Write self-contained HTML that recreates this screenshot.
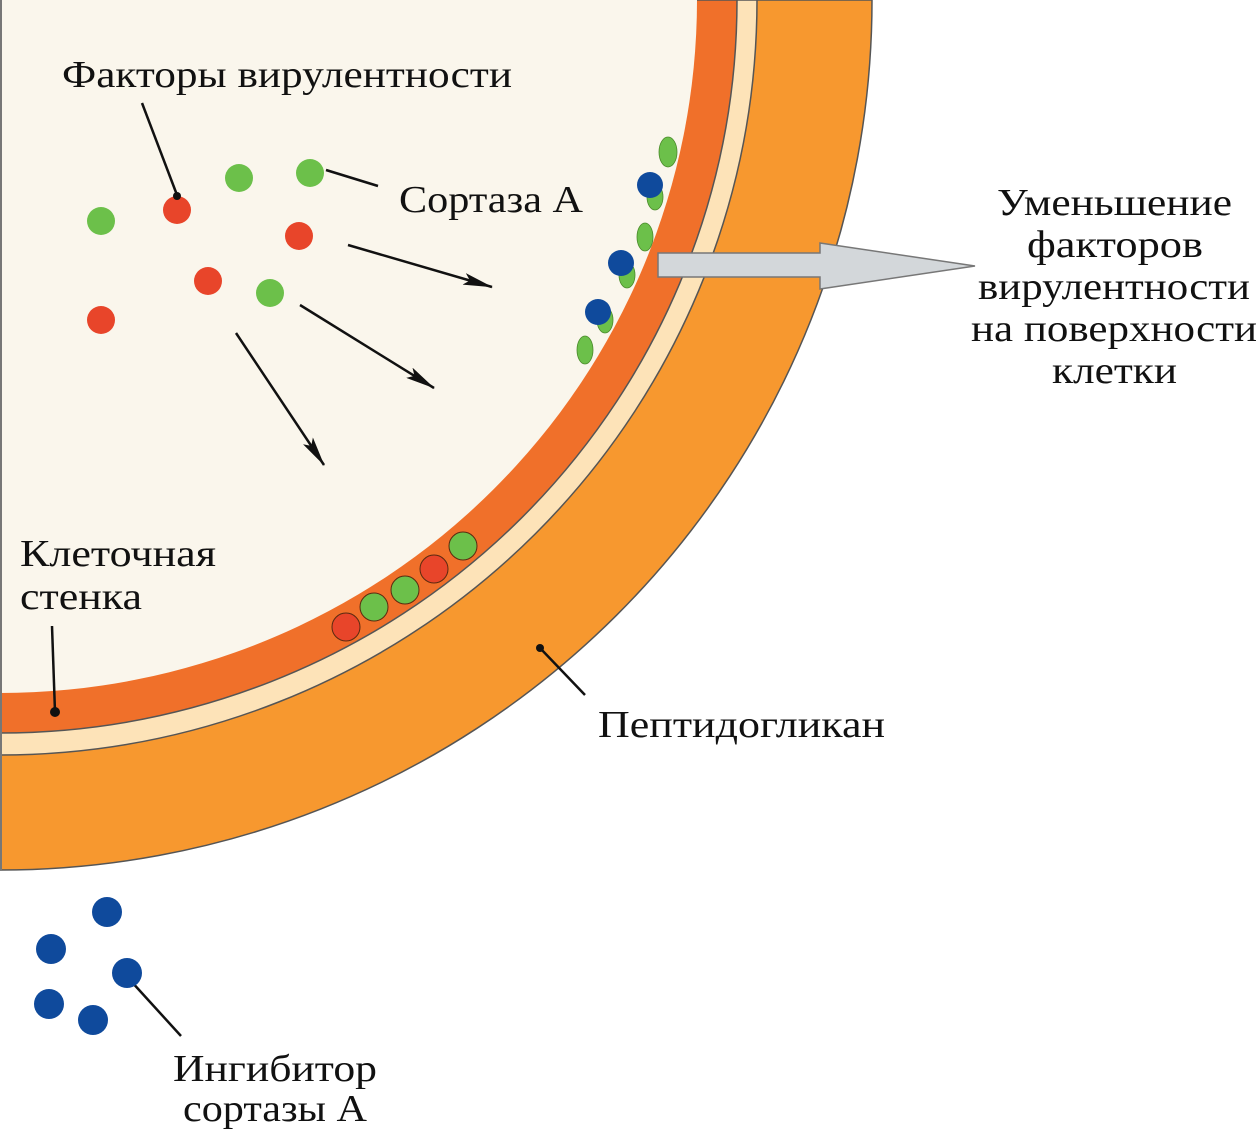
<!DOCTYPE html>
<html><head><meta charset="utf-8"><style>
html,body{margin:0;padding:0;background:#fff;}
svg{display:block;}
text{font-family:"Liberation Serif",serif;font-size:38px;fill:#111;}
</style></head><body>
<svg width="1259" height="1135" viewBox="0 0 1259 1135">
<defs>
<marker id="ah" viewBox="0 0 30 12" refX="29" refY="6" markerWidth="30" markerHeight="12" orient="auto" markerUnits="userSpaceOnUse"><path d="M0,0 L30,6 L0,12 L6,6 z" fill="#111"/></marker>
</defs>
<g stroke="#555" stroke-width="1.5">
<path d="M0,0 L872,0 A872,870 0 0 1 0,870 Z" fill="#f7982f"/>
<path d="M0,0 L757,0 A757,755 0 0 1 0,755 Z" fill="#fde3b8"/>
<path d="M0,0 L737,0 A737,733 0 0 1 0,733 Z" fill="#f0702a"/>
<path d="M0,0 L697,0 A697,693 0 0 1 0,693 Z" fill="#faf6ec" stroke="none"/>
</g>
<rect x="0" y="0" width="2" height="870" fill="#777"/>
<path d="M658,253 L820,253 L820,243 L975,266 L820,289 L820,277 L658,277 Z" fill="#d3d7da" stroke="#777" stroke-width="1.5"/>
<g stroke="#4a8a2a" stroke-width="0.8" fill="#6cc04a">
<ellipse cx="668" cy="152" rx="9" ry="15"/>
<ellipse cx="655" cy="197" rx="8" ry="13"/>
<ellipse cx="645" cy="237" rx="8" ry="14"/>
<ellipse cx="627" cy="275" rx="8" ry="13"/>
<ellipse cx="605" cy="320" rx="8" ry="13"/>
<ellipse cx="585" cy="350" rx="8" ry="14"/>
</g>
<g fill="#0f4a9c">
<circle cx="650" cy="185" r="13"/>
<circle cx="621" cy="263" r="13"/>
<circle cx="598" cy="312" r="13"/>
</g>
<g stroke="#5a2a10" stroke-width="1">
<circle cx="346" cy="627" r="14" fill="#e8452a"/>
<circle cx="374" cy="607" r="14" fill="#6cc04a"/>
<circle cx="405" cy="590" r="14" fill="#6cc04a"/>
<circle cx="434" cy="569" r="14" fill="#e8452a"/>
<circle cx="463" cy="546" r="14" fill="#6cc04a"/>
</g>
<g fill="#6cc04a">
<circle cx="239" cy="178" r="14"/><circle cx="310" cy="173" r="14"/>
<circle cx="101" cy="221" r="14"/><circle cx="270" cy="293" r="14"/>
</g>
<g fill="#e8452a">
<circle cx="177" cy="210" r="14"/><circle cx="299" cy="236" r="14"/>
<circle cx="208" cy="281" r="14"/><circle cx="101" cy="320" r="14"/>
</g>
<g stroke="#111" stroke-width="2.5" marker-end="url(#ah)">
<line x1="348" y1="245" x2="492" y2="287"/>
<line x1="300" y1="305" x2="434" y2="388"/>
<line x1="236" y1="333" x2="324" y2="465"/>
</g>
<g stroke="#111" stroke-width="2.5">
<line x1="142" y1="103" x2="177" y2="195"/>
<line x1="326" y1="170" x2="378" y2="186"/>
<line x1="52" y1="626" x2="55" y2="712"/>
<line x1="540" y1="648" x2="585" y2="695"/>
<line x1="130" y1="980" x2="181" y2="1036"/>
</g>
<circle cx="177" cy="196" r="4" fill="#111"/>
<circle cx="55" cy="712" r="5" fill="#111"/>
<circle cx="540" cy="648" r="4" fill="#111"/>
<g fill="#0f4a9c">
<circle cx="107" cy="912" r="15"/><circle cx="51" cy="949" r="15"/>
<circle cx="127" cy="973" r="15"/><circle cx="49" cy="1004" r="15"/>
<circle cx="93" cy="1020" r="15"/>
</g>
<text x="62" y="87" textLength="450" lengthAdjust="spacingAndGlyphs">Факторы вирулентности</text>
<text x="399" y="212" textLength="184" lengthAdjust="spacingAndGlyphs">Сортаза А</text>
<text x="997" y="215" textLength="235" lengthAdjust="spacingAndGlyphs">Уменьшение</text>
<text x="1027" y="257" textLength="176" lengthAdjust="spacingAndGlyphs">факторов</text>
<text x="978" y="299" textLength="272" lengthAdjust="spacingAndGlyphs">вирулентности</text>
<text x="971" y="341" textLength="286" lengthAdjust="spacingAndGlyphs">на поверхности</text>
<text x="1052" y="383" textLength="125" lengthAdjust="spacingAndGlyphs">клетки</text>
<text x="20" y="566" textLength="196" lengthAdjust="spacingAndGlyphs">Клеточная</text>
<text x="20" y="609" textLength="122" lengthAdjust="spacingAndGlyphs">стенка</text>
<text x="598" y="737" textLength="287" lengthAdjust="spacingAndGlyphs">Пептидогликан</text>
<text x="173" y="1081" textLength="204" lengthAdjust="spacingAndGlyphs">Ингибитор</text>
<text x="183" y="1121" textLength="184" lengthAdjust="spacingAndGlyphs">сортазы А</text>
</svg>
</body></html>
